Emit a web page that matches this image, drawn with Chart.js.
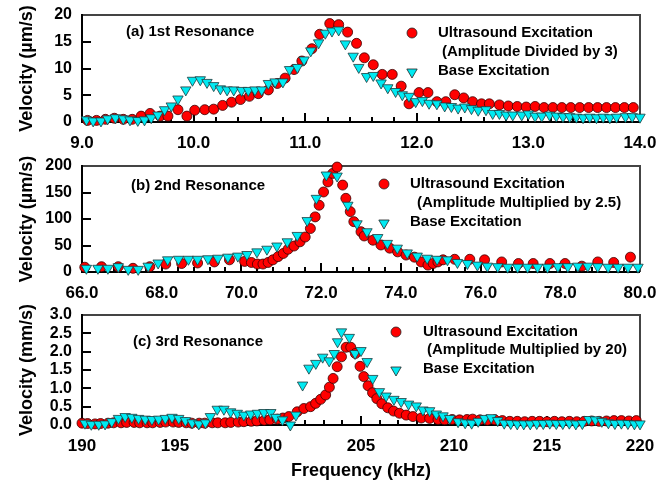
<!DOCTYPE html>
<html>
<head>
<meta charset="utf-8">
<script src="https://cdn.jsdelivr.net/npm/chart.js@4.4.1/dist/chart.umd.min.js"></script>
<style>
  html, body { margin: 0; padding: 0; background: #fff; }
  .panel { position: relative; width: 670px; }
  canvas { display: block; }
</style>
</head>
<body>
<div class="panel" style="height:150px"><canvas id="chartA" width="670" height="150"></canvas></div>
<div class="panel" style="height:150px"><canvas id="chartB" width="670" height="150"></canvas></div>
<div class="panel" style="height:185px"><canvas id="chartC" width="670" height="185"></canvas></div>
<script>
// (a) 1st resonance, kHz / um/s
const aUltraF = [9.05, 9.13, 9.21, 9.29, 9.37, 9.45, 9.53, 9.61, 9.70, 9.77, 9.86, 9.94, 10.01, 10.10, 10.18, 10.26, 10.34, 10.42, 10.50, 10.58, 10.67, 10.75, 10.82, 10.90, 10.97, 11.06, 11.13, 11.22, 11.30, 11.38, 11.46, 11.53, 11.61, 11.69, 11.78, 11.86, 11.93, 12.02, 12.10, 12.18, 12.26, 12.34, 12.42, 12.50, 12.58, 12.65, 12.74, 12.82, 12.90, 12.98, 13.06, 13.14, 13.22, 13.30, 13.38, 13.46, 13.54, 13.62, 13.70, 13.78, 13.86, 13.94];
const aUltraV = [0.3, 0.3, 0.5, 0.7, 0.5, 0.5, 1.1, 1.6, 1.1, 1.1, 2.3, 1.1, 2.2, 2.3, 2.4, 3.1, 3.7, 4.2, 4.8, 5.3, 6.0, 7.2, 8.2, 9.8, 11.4, 13.7, 16.4, 18.4, 18.2, 16.8, 14.7, 12.0, 10.7, 8.9, 8.9, 6.7, 3.4, 5.5, 5.5, 3.8, 3.8, 5.1, 4.5, 3.8, 3.4, 3.4, 3.2, 3.0, 2.9, 2.8, 2.9, 2.7, 2.7, 2.7, 2.7, 2.7, 2.7, 2.7, 2.7, 2.7, 2.7, 2.7];
const aBaseF = [9.04, 9.10, 9.17, 9.23, 9.30, 9.37, 9.43, 9.50, 9.56, 9.62, 9.68, 9.74, 9.80, 9.86, 9.93, 9.99, 10.06, 10.12, 10.18, 10.24, 10.30, 10.36, 10.43, 10.49, 10.55, 10.61, 10.67, 10.73, 10.80, 10.86, 10.93, 10.99, 11.05, 11.12, 11.18, 11.24, 11.30, 11.36, 11.43, 11.48, 11.55, 11.61, 11.68, 11.74, 11.81, 11.87, 11.93, 11.99, 12.05, 12.11, 12.18, 12.25, 12.31, 12.37, 12.43, 12.49, 12.55, 12.62, 12.68, 12.74, 12.80, 12.86, 12.94, 13.00, 13.06, 13.12, 13.19, 13.25, 13.31, 13.37, 13.43, 13.49, 13.55, 13.61, 13.67, 13.73, 13.79, 13.87, 13.93, 14.00];
const aBaseV = [0.4, 0.2, 0.2, 0.6, 0.8, 0.6, 0.4, 0.3, 0.4, 0.8, 1.3, 2.3, 3.0, 4.3, 6.0, 7.8, 7.9, 7.4, 6.8, 6.2, 6.0, 6.0, 5.9, 5.9, 6.0, 6.0, 7.2, 7.5, 7.5, 9.8, 10.2, 11.6, 13.3, 14.8, 16.6, 17.0, 17.2, 14.6, 12.3, 10.2, 8.5, 8.7, 7.3, 6.4, 5.7, 5.1, 4.8, 3.8, 4.0, 3.5, 3.4, 3.0, 2.9, 2.6, 2.8, 2.5, 2.2, 2.3, 1.6, 1.6, 1.3, 1.3, 1.3, 1.5, 1.1, 1.1, 1.3, 1.1, 1.0, 1.0, 0.9, 0.8, 0.9, 0.8, 0.9, 0.8, 0.9, 1.0, 1.0, 0.9];

// (b) 2nd resonance, kHz / um/s
const bUltraF = [66.07, 66.49, 66.91, 67.28, 67.70, 68.10, 68.50, 68.90, 69.32, 69.70, 70.08, 70.25, 70.40, 70.54, 70.67, 70.79, 70.92, 71.05, 71.17, 71.32, 71.47, 71.60, 71.73, 71.85, 71.95, 72.06, 72.17, 72.29, 72.40, 72.54, 72.62, 72.73, 72.82, 73.00, 73.08, 73.30, 73.50, 73.72, 73.92, 74.13, 74.34, 74.51, 74.68, 74.81, 74.93, 75.06, 75.35, 75.73, 76.10, 76.53, 76.95, 77.32, 77.74, 78.12, 78.54, 78.94, 79.34, 79.76];
const bUltraV = [9, 10, 10, 7, 10, 15, 16, 17, 19, 23, 20, 18, 15, 15, 18, 23, 29, 35, 43, 49, 57, 66, 82, 104, 126, 151, 170, 186, 198, 164, 139, 114, 95, 76, 68, 60, 51, 45, 38, 32, 28, 19, 13, 16, 19, 23, 24, 24, 23, 19, 16, 16, 16, 16, 11, 19, 18, 28];
const bBaseF = [66.11, 66.40, 66.65, 66.91, 67.16, 67.41, 67.66, 67.91, 68.15, 68.42, 68.67, 68.90, 69.16, 69.41, 69.66, 69.91, 70.14, 70.39, 70.64, 70.89, 71.15, 71.40, 71.65, 71.88, 72.13, 72.40, 72.67, 72.90, 73.15, 73.42, 73.66, 73.91, 74.16, 74.41, 74.66, 74.91, 75.17, 75.42, 75.67, 75.92, 76.17, 76.43, 76.68, 76.93, 77.18, 77.43, 77.68, 77.94, 78.19, 78.44, 78.69, 78.94, 79.20, 79.45, 79.70, 79.95];
const bBaseV = [7, 7, 7, 10, 5, 5, 11, 17, 23, 24, 24, 24, 25, 26, 28, 30, 33, 38, 43, 49, 57, 69, 97, 139, 183, 181, 126, 91, 76, 65, 54, 45, 36, 30, 26, 24, 23, 18, 16, 13, 11, 10, 9, 9, 9, 9, 9, 10, 10, 11, 11, 10, 9, 9, 9, 9];

// (c) 3rd resonance, kHz / mm/s
const cUltraF = [190.0, 190.3, 190.7, 191.0, 191.4, 191.7, 192.1, 192.4, 192.8, 193.1, 193.5, 193.8, 194.2, 194.5, 194.9, 195.2, 195.6, 195.9, 196.3, 196.6, 197.0, 197.3, 197.7, 198.0, 198.4, 198.7, 199.1, 199.4, 199.8, 200.1, 200.5, 200.8, 201.12, 201.57, 201.93, 202.29, 202.56, 202.83, 203.1, 203.3, 203.5, 203.72, 203.95, 204.2, 204.45, 204.7, 204.95, 205.15, 205.38, 205.62, 205.85, 206.12, 206.44, 206.75, 207.07, 207.43, 207.79, 208.24, 208.69, 209.14, 209.5, 209.9, 210.3, 210.7, 211.0, 211.4, 211.8, 212.2, 212.6, 213.0, 213.4, 213.8, 214.2, 214.6, 215.0, 215.4, 215.8, 216.2, 216.6, 217.0, 217.4, 217.8, 218.2, 218.6, 219.0, 219.4, 219.8];
const cUltraV = [0.05, 0.04, 0.03, 0.04, 0.05, 0.06, 0.06, 0.07, 0.07, 0.06, 0.06, 0.06, 0.07, 0.08, 0.08, 0.07, 0.06, 0.05, 0.05, 0.05, 0.06, 0.06, 0.06, 0.07, 0.08, 0.09, 0.10, 0.11, 0.13, 0.14, 0.16, 0.19, 0.23, 0.36, 0.45, 0.50, 0.59, 0.70, 0.82, 1.03, 1.27, 1.59, 1.86, 2.12, 2.12, 1.95, 1.60, 1.32, 1.07, 0.88, 0.72, 0.58, 0.47, 0.38, 0.32, 0.27, 0.23, 0.19, 0.18, 0.15, 0.14, 0.15, 0.14, 0.15, 0.16, 0.14, 0.13, 0.14, 0.12, 0.10, 0.10, 0.09, 0.10, 0.10, 0.09, 0.10, 0.09, 0.10, 0.09, 0.10, 0.11, 0.10, 0.11, 0.12, 0.12, 0.11, 0.12];
const cBaseF = [190.16, 190.5, 190.9, 191.24, 191.6, 191.96, 192.32, 192.68, 193.04, 193.4, 193.76, 194.12, 194.48, 194.84, 195.2, 195.56, 195.92, 196.28, 196.64, 196.9, 197.27, 197.63, 197.99, 198.35, 198.7, 199.07, 199.43, 199.78, 200.15, 200.42, 200.78, 201.2, 201.5, 201.86, 202.2, 202.57, 202.94, 203.29, 203.56, 203.74, 203.95, 204.37, 204.68, 205.0, 205.33, 205.63, 205.99, 206.35, 206.77, 207.16, 207.56, 207.97, 208.33, 208.69, 209.05, 209.41, 209.77, 210.22, 210.6, 210.95, 211.3, 211.65, 212.0, 212.35, 212.7, 213.05, 213.4, 213.75, 214.1, 214.45, 214.8, 215.15, 215.5, 215.85, 216.2, 216.55, 216.9, 217.25, 217.6, 217.95, 218.3, 218.65, 219.0, 219.35, 219.7, 220.0];
const cBaseV = [0.05, 0.02, 0.02, 0.03, 0.09, 0.18, 0.23, 0.21, 0.18, 0.16, 0.15, 0.16, 0.18, 0.21, 0.18, 0.12, 0.06, 0.03, 0.06, 0.23, 0.43, 0.43, 0.36, 0.32, 0.27, 0.30, 0.32, 0.34, 0.34, 0.21, 0.14, 0.0, 0.27, 1.09, 1.55, 1.68, 1.85, 1.75, 1.95, 2.27, 2.54, 2.39, 1.95, 2.03, 1.73, 1.27, 0.91, 0.79, 0.70, 0.64, 0.57, 0.52, 0.41, 0.39, 0.30, 0.25, 0.18, 0.09, 0.06, 0.05, 0.10, 0.18, 0.20, 0.12, 0.05, 0.04, 0.03, 0.03, 0.03, 0.04, 0.04, 0.05, 0.04, 0.04, 0.05, 0.03, 0.04, 0.15, 0.14, 0.10, 0.06, 0.04, 0.05, 0.04, 0.03, 0.03];

const FONT = 'Arial, "Liberation Sans", Helvetica, sans-serif';
const RED = '#ff0000';
const CYAN = '#00eaf2';

Chart.defaults.font.family = FONT;
Chart.defaults.font.weight = 'bold';
Chart.defaults.color = '#000';

function points(xs, ys) {
  return xs.map((x, i) => ({ x: x, y: ys[i] }));
}

// frame and inward ticks, drawn before the markers
function frameTicks(ch, cfg) {
  const ctx = ch.ctx;
  const a = ch.chartArea;
  const sx = ch.scales.x;
  const sy = ch.scales.y;
  ctx.save();
  ctx.fillStyle = '#000';
  const n = Math.round((cfg.xMax - cfg.xMin) / cfg.xMinor);
  for (let i = 0; i <= n; i++) {
    const v = cfg.xMin + i * cfg.xMinor;
    const r = v / cfg.xStep;
    const len = Math.abs(r - Math.round(r)) < 1e-6 ? 9 : 5;
    const px = Math.round(sx.getPixelForValue(v));
    ctx.fillRect(px - 1, a.bottom - len, 2, len);
  }
  const m = Math.round(cfg.yMax / cfg.yStep);
  for (let i = 0; i <= m; i++) {
    const py = Math.round(sy.getPixelForValue(i * cfg.yStep));
    ctx.fillRect(a.left, py - 1, 9, 2);
  }
  ctx.fillStyle = '#444';
  ctx.fillRect(a.left, a.top - 1, a.right - a.left, 2);
  ctx.fillRect(a.right - 1, a.top - 1, 2, a.bottom - a.top + 1);
  ctx.fillStyle = '#000';
  ctx.fillRect(a.left - 1, a.top - 1, 2, a.bottom - a.top + 2);
  ctx.fillRect(a.left - 1, a.bottom - 1, a.right - a.left + 1, 2);
  ctx.restore();
}

function notes(ch, cfg) {
  const ctx = ch.ctx;
  ctx.save();
  ctx.fillStyle = '#000';
  ctx.font = 'bold 15px ' + FONT;
  ctx.textBaseline = 'middle';
  ctx.textAlign = 'left';
  cfg.labels.forEach(l => ctx.fillText(l.text, l.x, l.y));
  cfg.marks.forEach(k => {
    ctx.beginPath();
    if (k.type === 'circle') {
      ctx.fillStyle = RED;
      ctx.arc(k.x, k.y, 5, 0, Math.PI * 2);
    } else {
      const r = 6;
      ctx.fillStyle = CYAN;
      ctx.moveTo(k.x, k.y + r);
      ctx.lineTo(k.x - r * Math.sin(Math.PI / 3), k.y - r / 2);
      ctx.lineTo(k.x + r * Math.sin(Math.PI / 3), k.y - r / 2);
      ctx.closePath();
    }
    ctx.fill();
    ctx.lineWidth = 0.8;
    ctx.strokeStyle = '#222';
    ctx.stroke();
  });
  ctx.restore();
}

function makeChart(id, cfg) {
  const datasets = [
    { label: 'Base Excitation', data: points(cfg.baseF, cfg.baseV), pointStyle: 'triangle', rotation: 180,
      pointRadius: 6, backgroundColor: CYAN, borderColor: '#1d3a3c', borderWidth: 0.8 },
    { label: 'Ultrasound Excitation', data: points(cfg.ultraF, cfg.ultraV), pointStyle: 'circle',
      pointRadius: 5, backgroundColor: RED, borderColor: '#3a0000', borderWidth: 0.8 }
  ];
  datasets.forEach(d => { d.showLine = false; d.clip = false; d.pointHoverRadius = d.pointRadius; });

  return new Chart(document.getElementById(id), {
    type: 'scatter',
    data: { datasets: datasets },
    options: {
      responsive: false,
      animation: false,
      events: [],
      layout: { padding: { top: cfg.top, right: 30, left: 0, bottom: 0 } },
      plugins: {
        legend: { display: false },
        tooltip: { enabled: false }
      },
      scales: {
        x: {
          type: 'linear', min: cfg.xMin, max: cfg.xMax,
          afterFit: s => { s.height = cfg.xHeight; s.paddingLeft = 0; s.paddingRight = 0; },
          grid: { display: false, drawTicks: false },
          border: { display: false },
          ticks: { stepSize: cfg.xStep, padding: 11, autoSkip: false, maxRotation: 0,
            font: { size: 17, weight: 'bold' }, callback: cfg.xFmt },
          title: cfg.xTitle ? { display: true, text: cfg.xTitle, font: { size: 18, weight: 'bold' },
            padding: { top: 0, bottom: 3 } } : { display: false }
        },
        y: {
          min: 0, max: cfg.yMax,
          afterFit: s => { s.width = 82; s.paddingTop = 0; s.paddingBottom = 0; },
          grid: { display: false, drawTicks: false },
          border: { display: false },
          ticks: { stepSize: cfg.yStep, padding: 10, autoSkip: false,
            font: { size: 16, weight: 'bold' }, callback: cfg.yFmt },
          title: { display: true, text: cfg.yTitle, font: { size: 18, weight: 'bold' }, padding: { top: 16, bottom: 0 } }
        }
      }
    },
    plugins: [{
      id: 'frameNotes',
      beforeDatasetsDraw(ch) { frameTicks(ch, cfg); },
      afterDraw(ch) { notes(ch, cfg); }
    }]
  });
}

makeChart('chartA', {
  ultraF: aUltraF, ultraV: aUltraV, baseF: aBaseF, baseV: aBaseV,
  top: 15, xHeight: 28, xMin: 9, xMax: 14, xStep: 1, xMinor: 0.2,
  xFmt: v => v.toFixed(1), yMax: 20, yStep: 5, yFmt: v => v,
  yTitle: 'Velocity (\u00b5m/s)',
  labels: [
    { text: '(a) 1st Resonance', x: 126, y: 32 },
    { text: 'Ultrasound Excitation', x: 438, y: 33 },
    { text: '(Amplitude Divided by 3)', x: 442, y: 52 },
    { text: 'Base Excitation', x: 438, y: 71 }
  ],
  marks: [{ type: 'circle', x: 412, y: 33 }, { type: 'tri', x: 412, y: 72 }]
});

makeChart('chartB', {
  ultraF: bUltraF, ultraV: bUltraV, baseF: bBaseF, baseV: bBaseV,
  top: 16, xHeight: 28, xMin: 66, xMax: 80, xStep: 2, xMinor: 0.4,
  xFmt: v => v.toFixed(1), yMax: 200, yStep: 50, yFmt: v => v,
  yTitle: 'Velocity (\u00b5m/s)',
  labels: [
    { text: '(b) 2nd Resonance', x: 131, y: 36 },
    { text: 'Ultrasound Excitation', x: 410, y: 34 },
    { text: '(Amplitude Multiplied by 2.5)', x: 417, y: 53 },
    { text: 'Base Excitation', x: 410, y: 72 }
  ],
  marks: [{ type: 'circle', x: 384, y: 34 }, { type: 'tri', x: 384, y: 73 }]
});

makeChart('chartC', {
  ultraF: cUltraF, ultraV: cUltraV, baseF: cBaseF, baseV: cBaseV,
  top: 15, xHeight: 60, xMin: 190, xMax: 220, xStep: 5, xMinor: 1,
  xFmt: v => String(v), yMax: 3, yStep: 0.5, yFmt: v => v.toFixed(1),
  yTitle: 'Velocity (mm/s)', xTitle: 'Frequency (kHz)',
  labels: [
    { text: '(c) 3rd Resonance', x: 133, y: 42 },
    { text: 'Ultrasound Excitation', x: 423, y: 32 },
    { text: '(Amplitude Multiplied by 20)', x: 427, y: 50 },
    { text: 'Base Excitation', x: 423, y: 69 }
  ],
  marks: [{ type: 'circle', x: 396, y: 32 }, { type: 'tri', x: 396, y: 70 }]
});
</script>
</body>
</html>
